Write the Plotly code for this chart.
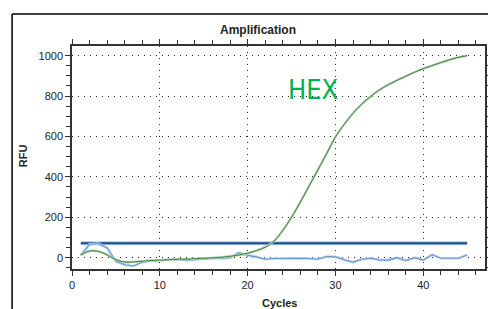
import plotly.graph_objects as go

cycles = list(range(1, 46))
hex_rfu = [13, 33, 31, 14, -10, -22, -21, -17, -14, -12, -10, -8, -7, -5, -3, -1, 2, 7, 13, 22,
           35, 52, 82, 135, 200, 275, 355, 435, 515, 598, 660, 715, 760, 798, 830, 856, 878, 898,
           918, 936, 951, 966, 980, 992, 1000]
blue_rfu = [13, 66, 70, 48, -18, -35, -41, -22, -16, -12, -10, -8, -12, -10, -6, -2, -4, 0, 25, 12,
            4, -8, -4, -3, -2, -3, -4, -8, 6, 4, -10, -22, -8, -3, -11, -12, 0, -14, 0, -12,
            15, -3, -3, -3, 13]
threshold_x = [1, 45]
threshold_value = 72
x_ticks = [0, 10, 20, 30, 40]
y_ticks = [0, 200, 400, 600, 800, 1000]

FONT = "Liberation Sans, Arial, sans-serif"

fig = go.Figure()
# threshold with light halo
fig.add_trace(go.Scatter(x=threshold_x, y=[threshold_value] * 2, mode="lines",
                         line=dict(color="#a9c7ea", width=4), hoverinfo="skip", showlegend=False))
fig.add_trace(go.Scatter(x=threshold_x, y=[threshold_value] * 2, mode="lines",
                         line=dict(color="#1b4f8a", width=2), showlegend=False))
fig.add_trace(go.Scatter(x=cycles, y=blue_rfu, mode="lines",
                         line=dict(color="#c2d6ef", width=2.6), hoverinfo="skip", showlegend=False))
fig.add_trace(go.Scatter(x=cycles, y=blue_rfu, mode="lines",
                         line=dict(color="#6a98cf", width=1.1), showlegend=False))
fig.add_trace(go.Scatter(x=cycles, y=hex_rfu, mode="lines", line_shape="spline",
                         line=dict(color="#b8d6b8", width=2.4), hoverinfo="skip", showlegend=False))
fig.add_trace(go.Scatter(x=cycles, y=hex_rfu, mode="lines", line_shape="spline",
                         line=dict(color="#437f43", width=1.0), showlegend=False))

axis_common = dict(showline=True, linecolor="#333333", linewidth=1.5, mirror="ticks",
                   showgrid=True, gridcolor="#222222", griddash="1px,5px", gridwidth=1,
                   zeroline=False, ticks="outside", ticklen=5, tickcolor="#333333",
                   tickfont=dict(family=FONT, size=11, color="#222222"))

fig.update_xaxes(range=[0, 47.03], tickvals=x_ticks,
                 minor=dict(dtick=2, tick0=0, ticks="outside", ticklen=4, tickcolor="#333333", showgrid=False),
                 **axis_common)
fig.update_yaxes(range=[-56, 1048], tickvals=y_ticks,
                 minor=dict(dtick=50, tick0=0, ticks="outside", ticklen=4, tickcolor="#333333", showgrid=False),
                 **axis_common)

fig.update_layout(
    width=488, height=301,
    margin=dict(l=64, r=4, t=38, b=40),
    paper_bgcolor="white", plot_bgcolor="white",
    font=dict(family=FONT),
    shapes=[
        dict(type="line", xref="paper", yref="paper", x0=-0.145, x1=1.02, y0=1.1435, y1=1.1435,
             line=dict(color="black", width=1.5)),
        dict(type="line", xref="paper", yref="paper", x0=-0.145, x1=-0.145, y0=-0.3, y1=1.1435,
             line=dict(color="black", width=1.5)),
    ],
    annotations=[
        dict(text="<b>Amplification</b>", xref="paper", yref="paper", x=0.451, y=1.0717,
             showarrow=False, font=dict(family=FONT, size=12, color="#222222"),
             xanchor="center", yanchor="middle"),
        dict(text="HEX", x=27.5, y=835, xref="x", yref="y", showarrow=False,
             font=dict(family="Liberation Sans Narrow, DejaVu Sans Condensed, Arial Narrow, sans-serif",
                       size=27, color="#00b050"),
             xanchor="center", yanchor="middle"),
        dict(text="<b>Cycles</b>", xref="paper", yref="paper", x=0.502, y=-0.151,
             showarrow=False, font=dict(family=FONT, size=11, color="#222222"),
             xanchor="center", yanchor="middle"),
        dict(text="<b>RFU</b>", xref="paper", yref="paper", x=-0.118, y=0.507, textangle=-90,
             showarrow=False, font=dict(family=FONT, size=11, color="#222222"),
             xanchor="center", yanchor="middle"),
    ],
)

fig.write_html("out.html")
